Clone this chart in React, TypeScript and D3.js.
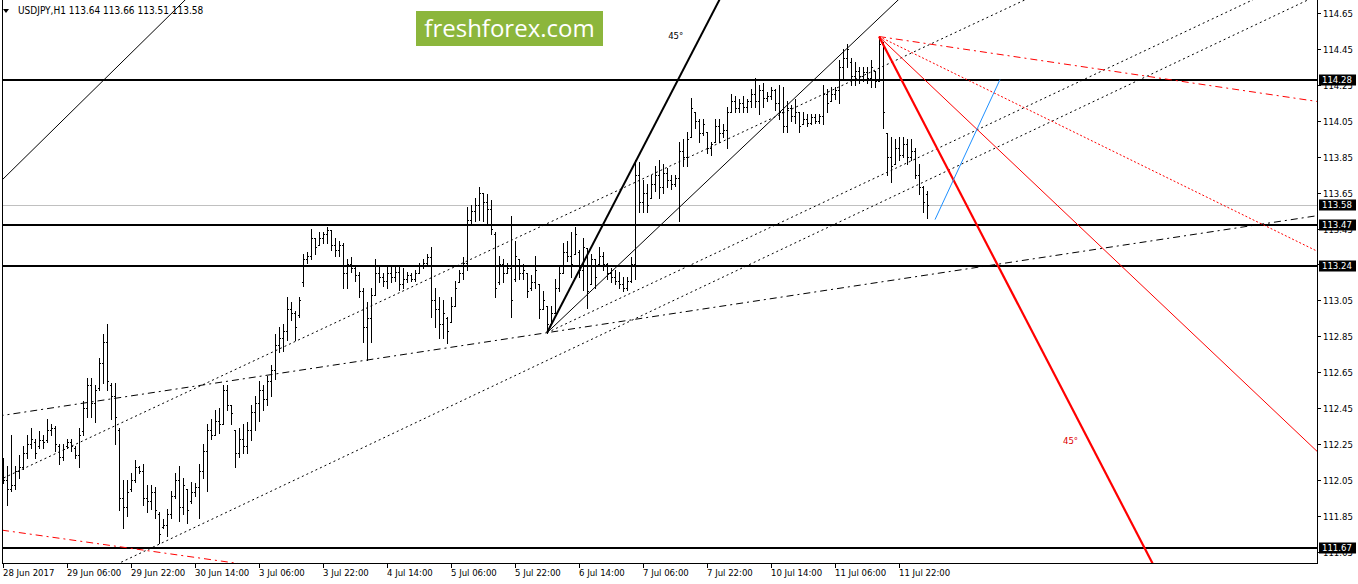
"use client";

import React, { useEffect, useRef } from "react";
import * as d3 from "d3";

// open, high, low, close for every H1 bar (28 Jun 2017 14:00 .. 12 Jul 05:00)
type Bar = [number, number, number, number];
type Anchor = [number, number]; // [bar index, price]

const bars: Bar[] = [
  [112.1, 112.17, 112.03, 112.05], [112.05, 112.13, 111.91, 112.0], [112.0, 112.3, 111.99, 112.02], [112.02, 112.13, 112.0, 112.1],
  [112.1, 112.19, 112.06, 112.12], [112.12, 112.24, 112.11, 112.2], [112.2, 112.3, 112.17, 112.25], [112.25, 112.34, 112.23, 112.28],
  [112.26, 112.28, 112.17, 112.2], [112.24, 112.32, 112.23, 112.27], [112.27, 112.3, 112.23, 112.26], [112.27, 112.39, 112.26, 112.33],
  [112.33, 112.36, 112.3, 112.34], [112.34, 112.35, 112.21, 112.25], [112.24, 112.25, 112.14, 112.18], [112.18, 112.25, 112.16, 112.22],
  [112.24, 112.28, 112.23, 112.26], [112.26, 112.28, 112.21, 112.24], [112.23, 112.24, 112.17, 112.19], [112.19, 112.34, 112.12, 112.3],
  [112.32, 112.49, 112.3, 112.45], [112.45, 112.62, 112.4, 112.58], [112.58, 112.62, 112.4, 112.48], [112.48, 112.58, 112.37, 112.55],
  [112.56, 112.73, 112.55, 112.7], [112.7, 112.86, 112.59, 112.82], [112.82, 112.92, 112.55, 112.6], [112.58, 112.59, 112.39, 112.52],
  [112.52, 112.59, 112.25, 112.4], [112.33, 112.34, 111.88, 111.95], [111.95, 112.05, 111.78, 111.9], [111.9, 112.05, 111.85, 111.98],
  [112.0, 112.09, 111.99, 112.05], [112.05, 112.16, 112.04, 112.12], [112.12, 112.13, 112.09, 112.1], [112.1, 112.14, 111.91, 111.95],
  [111.95, 112.02, 111.87, 111.93], [111.93, 112.02, 111.89, 111.98], [111.98, 112.01, 111.84, 111.88], [111.86, 111.87, 111.7, 111.75],
  [111.79, 111.83, 111.78, 111.8], [111.8, 111.89, 111.74, 111.86], [111.86, 111.99, 111.84, 111.96], [111.96, 112.09, 111.95, 112.05],
  [112.05, 112.13, 111.82, 111.9], [111.9, 112.06, 111.86, 112.02], [112.0, 112.0, 111.81, 111.88], [111.93, 112.04, 111.92, 111.98],
  [111.98, 112.03, 111.96, 112.01], [112.01, 112.14, 111.84, 112.1], [112.1, 112.25, 112.06, 112.21], [112.21, 112.36, 111.99, 112.33],
  [112.33, 112.39, 112.28, 112.3], [112.3, 112.44, 112.3, 112.38], [112.38, 112.45, 112.31, 112.36], [112.36, 112.58, 112.36, 112.55],
  [112.55, 112.58, 112.44, 112.47], [112.47, 112.47, 112.36, 112.42], [112.33, 112.33, 112.12, 112.2], [112.2, 112.34, 112.18, 112.28],
  [112.28, 112.36, 112.2, 112.24], [112.24, 112.37, 112.2, 112.33], [112.33, 112.47, 112.27, 112.43], [112.43, 112.52, 112.33, 112.48],
  [112.48, 112.6, 112.38, 112.55], [112.55, 112.58, 112.44, 112.5], [112.5, 112.63, 112.47, 112.6], [112.6, 112.69, 112.52, 112.66],
  [112.66, 112.86, 112.61, 112.8], [112.8, 112.9, 112.76, 112.84], [112.84, 112.92, 112.77, 112.88], [112.88, 113.07, 112.83, 113.0],
  [113.0, 113.04, 112.94, 112.98], [112.98, 112.99, 112.83, 112.9], [112.97, 113.07, 112.96, 113.05], [113.15, 113.31, 113.13, 113.28],
  [113.28, 113.32, 113.26, 113.3], [113.3, 113.45, 113.28, 113.4], [113.4, 113.4, 113.31, 113.35], [113.36, 113.43, 113.36, 113.4],
  [113.4, 113.43, 113.37, 113.42], [113.42, 113.46, 113.37, 113.44], [113.44, 113.44, 113.33, 113.36], [113.36, 113.4, 113.3, 113.33],
  [113.33, 113.38, 113.3, 113.36], [113.36, 113.37, 113.12, 113.2], [113.2, 113.28, 113.12, 113.25], [113.25, 113.29, 113.21, 113.23],
  [113.23, 113.24, 113.16, 113.19], [113.19, 113.21, 113.07, 113.1], [113.1, 113.12, 112.82, 112.9], [112.9, 113.04, 112.72, 112.95],
  [112.95, 113.12, 112.82, 113.08], [113.08, 113.28, 113.08, 113.2], [113.2, 113.24, 113.15, 113.18], [113.18, 113.2, 113.13, 113.16],
  [113.16, 113.24, 113.12, 113.2], [113.2, 113.24, 113.15, 113.18], [113.18, 113.24, 113.16, 113.21], [113.21, 113.24, 113.11, 113.14],
  [113.14, 113.23, 113.12, 113.17], [113.17, 113.21, 113.15, 113.19], [113.19, 113.2, 113.16, 113.17], [113.17, 113.22, 113.16, 113.2],
  [113.2, 113.26, 113.2, 113.24], [113.24, 113.28, 113.23, 113.26], [113.26, 113.31, 113.25, 113.29], [113.29, 113.35, 112.96, 113.05],
  [113.05, 113.12, 112.9, 113.0], [113.0, 113.07, 112.84, 112.92], [112.92, 113.05, 112.84, 112.98], [112.95, 112.96, 112.81, 112.88],
  [112.93, 113.07, 112.93, 113.02], [113.02, 113.16, 113.02, 113.12], [113.15, 113.22, 113.15, 113.2], [113.2, 113.29, 113.17, 113.26],
  [113.26, 113.57, 113.22, 113.5], [113.5, 113.58, 113.48, 113.55], [113.55, 113.62, 113.49, 113.58], [113.58, 113.68, 113.5, 113.65],
  [113.65, 113.65, 113.49, 113.6], [113.6, 113.64, 113.48, 113.56], [113.56, 113.61, 113.42, 113.45], [113.42, 113.43, 113.07, 113.12],
  [113.15, 113.3, 113.14, 113.25], [113.25, 113.28, 113.15, 113.2], [113.2, 113.26, 113.2, 113.23], [113.23, 113.52, 112.96, 113.05],
  [113.17, 113.38, 113.16, 113.3], [113.28, 113.28, 113.17, 113.2], [113.2, 113.25, 113.17, 113.22], [113.2, 113.2, 113.07, 113.1],
  [113.12, 113.19, 113.11, 113.15], [113.15, 113.3, 113.12, 113.22], [113.14, 113.14, 112.95, 113.0], [113.0, 113.1, 113.0, 113.05],
  [113.02, 113.02, 112.87, 112.92], [112.92, 113.02, 112.92, 112.98], [112.98, 113.17, 112.98, 113.12], [113.12, 113.24, 113.1, 113.2],
  [113.2, 113.37, 113.2, 113.32], [113.32, 113.38, 113.27, 113.3], [113.3, 113.43, 113.18, 113.25], [113.31, 113.46, 113.31, 113.42],
  [113.32, 113.33, 113.18, 113.22], [113.22, 113.4, 113.11, 113.35], [113.34, 113.34, 113.01, 113.1], [113.14, 113.31, 113.14, 113.28],
  [113.28, 113.28, 113.12, 113.18], [113.25, 113.35, 113.25, 113.3], [113.3, 113.32, 113.22, 113.25], [113.25, 113.26, 113.17, 113.2],
  [113.2, 113.23, 113.15, 113.18], [113.18, 113.22, 113.14, 113.16], [113.16, 113.21, 113.12, 113.14], [113.14, 113.18, 113.1, 113.12],
  [113.12, 113.18, 113.11, 113.16], [113.16, 113.29, 113.15, 113.25], [113.25, 113.83, 113.17, 113.75], [113.75, 113.82, 113.54, 113.6],
  [113.6, 113.72, 113.54, 113.65], [113.65, 113.7, 113.54, 113.58], [113.62, 113.75, 113.62, 113.7], [113.7, 113.8, 113.66, 113.75],
  [113.75, 113.83, 113.62, 113.68], [113.68, 113.81, 113.65, 113.76], [113.76, 113.79, 113.68, 113.72], [113.72, 113.75, 113.67, 113.7],
  [113.7, 113.75, 113.69, 113.73], [113.73, 113.93, 113.49, 113.88], [113.88, 113.95, 113.8, 113.85], [113.85, 113.99, 113.8, 113.95],
  [113.96, 114.18, 113.96, 114.12], [114.1, 114.1, 114.01, 114.05], [114.05, 114.06, 113.93, 113.98], [113.98, 114.06, 113.97, 114.03],
  [113.99, 113.99, 113.87, 113.9], [113.9, 113.93, 113.86, 113.92], [113.93, 114.06, 113.93, 114.02], [114.02, 114.06, 113.93, 113.98],
  [113.98, 114.03, 113.96, 114.0], [114.0, 114.13, 113.9, 114.1], [114.1, 114.2, 114.1, 114.16], [114.16, 114.19, 114.1, 114.12],
  [114.12, 114.17, 114.1, 114.15], [114.15, 114.19, 114.1, 114.13], [114.13, 114.17, 114.1, 114.16], [114.16, 114.23, 114.13, 114.2],
  [114.2, 114.29, 114.13, 114.16], [114.16, 114.25, 114.09, 114.22], [114.22, 114.26, 114.13, 114.18], [114.18, 114.21, 114.16, 114.19],
  [114.19, 114.24, 114.17, 114.22], [114.22, 114.23, 114.11, 114.15], [114.15, 114.25, 114.06, 114.1], [114.1, 114.24, 113.99, 114.02],
  [114.02, 114.16, 113.99, 114.12], [114.12, 114.14, 114.05, 114.08], [114.08, 114.17, 114.04, 114.1], [114.1, 114.1, 113.99, 114.02],
  [114.03, 114.1, 114.03, 114.06], [114.06, 114.09, 114.02, 114.04], [114.04, 114.09, 114.03, 114.07], [114.07, 114.09, 114.04, 114.05],
  [114.05, 114.09, 114.04, 114.08], [114.08, 114.25, 114.03, 114.2], [114.2, 114.23, 114.1, 114.15], [114.16, 114.24, 114.16, 114.2],
  [114.2, 114.24, 114.17, 114.22], [114.22, 114.39, 114.15, 114.35], [114.35, 114.45, 114.29, 114.4], [114.4, 114.48, 114.35, 114.45],
  [114.38, 114.4, 114.25, 114.3], [114.3, 114.38, 114.25, 114.33], [114.33, 114.35, 114.26, 114.3], [114.3, 114.35, 114.27, 114.32],
  [114.32, 114.35, 114.26, 114.29], [114.29, 114.39, 114.24, 114.35], [114.33, 114.33, 114.24, 114.27], [114.27, 114.52, 114.27, 114.48],
  [114.48, 114.49, 114.01, 114.1], [113.98, 113.98, 113.75, 113.85], [113.85, 113.96, 113.71, 113.8], [113.81, 113.95, 113.81, 113.9],
  [113.9, 113.96, 113.83, 113.86], [113.86, 113.96, 113.85, 113.92], [113.92, 113.95, 113.81, 113.85], [113.85, 113.95, 113.83, 113.88],
  [113.88, 113.9, 113.73, 113.75], [113.75, 113.81, 113.64, 113.68], [113.68, 113.69, 113.54, 113.6], [113.64, 113.66, 113.51, 113.58],
];

const priceTicks = [114.65, 114.45, 114.25, 114.05, 113.85, 113.65, 113.45, 113.25, 113.05, 112.85, 112.65, 112.45, 112.25, 112.05, 111.85, 111.65];
const timeLabels = [
  "28 Jun 2017", "29 Jun 06:00", "29 Jun 22:00", "30 Jun 14:00", "3 Jul 06:00", "3 Jul 22:00", "4 Jul 14:00", "5 Jul 06:00",
  "5 Jul 22:00", "6 Jul 14:00", "7 Jul 06:00", "7 Jul 22:00", "10 Jul 14:00", "11 Jul 06:00", "11 Jul 22:00",
];
const levels = [114.28, 113.47, 113.24, 111.67];
const bidPrice = 113.58;
const header = "USDJPY,H1  113.64 113.66 113.51 113.58";

// drawing objects, anchors in [bar index, price]
const longDashDot: [Anchor, Anchor][] = [[[136, 112.87], [328, 113.52]]];
const channelDotted: [Anchor, Anchor][] = [
  [[2, 112.08], [234, 114.5]],
  [[37, 111.67], [234, 113.75]],
];
const originDotted: [Anchor, Anchor][] = [[[136, 112.87], [234, 113.9]]];
const thinBlack: [Anchor, Anchor][] = [
  [[0, 113.726], [45, 114.712]],
  [[136, 112.87], [223, 114.707]],
];
const gannUp: [Anchor, Anchor][] = [[[136, 112.87], [179, 114.72]]];
const gannDown: [Anchor, Anchor][] = [[[219, 114.52], [287.5, 111.58]]];
const redThin: [Anchor, Anchor][] = [[[219, 114.52], [328, 112.22]]];
const redDotted: [Anchor, Anchor][] = [[[219, 114.52], [328, 113.33]]];
const redDashDot: [Anchor, Anchor][] = [
  [[219, 114.52], [328, 114.16]],
  [[-0.25, 111.77], [57, 111.59]],
];
const blueSegment: [Anchor, Anchor][] = [[[233, 113.5], [249.25, 114.28]]];
const angleLabels: { at: Anchor; text: string; color: string }[] = [
  { at: [166.3, 114.505], text: "45°", color: "#000" },
  { at: [265, 112.25], text: "45°", color: "#e00000" },
];

const FONT = "'DejaVu Sans Condensed', 'DejaVu Sans', sans-serif";

const App: React.FC = () => {
  const svgRef = useRef<SVGSVGElement | null>(null);

  useEffect(() => {
    if (!svgRef.current) return;
    const svg = d3.select(svgRef.current);
    svg.selectAll("*").remove();

    const width = 1358;
    const height = 584;
    const left = 2;
    const right = 1317;
    const bottom = 563;

    svg.attr("width", width).attr("height", height);
    svg.append("rect").attr("width", width).attr("height", height).attr("fill", "#fff");

    const x = d3.scaleLinear().domain([0, 328.5]).range([3, 1317]);
    const y = d3.scaleLinear().domain([111.587, 114.7235]).range([bottom, 0]);

    svg
      .append("clipPath")
      .attr("id", "plot")
      .append("rect")
      .attr("x", left)
      .attr("y", 0)
      .attr("width", right - left)
      .attr("height", bottom);

    const plot = svg.append("g").attr("clip-path", "url(#plot)");

    // bid line
    plot
      .append("line")
      .attr("x1", left)
      .attr("x2", right)
      .attr("y1", Math.round(y(bidPrice)) + 0.5)
      .attr("y2", Math.round(y(bidPrice)) + 0.5)
      .attr("stroke", "#c0c0c0");

    // bars
    const barG = plot.append("g").attr("fill", "#000").attr("shape-rendering", "crispEdges");
    bars.forEach((b, i) => {
      const bx = Math.round(x(i));
      const yh = Math.round(y(b[1]));
      const yl = Math.round(y(b[2]));
      barG.append("rect").attr("x", bx).attr("y", yh).attr("width", 1).attr("height", Math.max(1, yl - yh + 1));
      barG.append("rect").attr("x", bx - 1).attr("y", Math.round(y(b[0]))).attr("width", 1).attr("height", 1);
      barG.append("rect").attr("x", bx + 1).attr("y", Math.round(y(b[3]))).attr("width", 1).attr("height", 1);
    });

    // horizontal levels
    levels.forEach((p) => {
      plot
        .append("line")
        .attr("x1", left)
        .attr("x2", right)
        .attr("y1", Math.round(y(p)))
        .attr("y2", Math.round(y(p)))
        .attr("stroke", "#000")
        .attr("stroke-width", 2);
    });

    // trend lines
    const drawLines = (
      list: [Anchor, Anchor][],
      ext: "none" | "right" | "both",
      color: string,
      widthPx: number,
      dash?: string
    ) => {
      list.forEach(([a, b]) => {
        const slope = (b[1] - a[1]) / (b[0] - a[0]);
        const i0 = ext === "both" ? -10 : a[0];
        const i1 = ext === "none" ? b[0] : 400;
        const line = plot
          .append("line")
          .attr("x1", x(i0))
          .attr("y1", y(a[1] + slope * (i0 - a[0])))
          .attr("x2", x(i1))
          .attr("y2", y(a[1] + slope * (i1 - a[0])))
          .attr("stroke", color)
          .attr("stroke-width", widthPx);
        if (dash) line.attr("stroke-dasharray", dash);
      });
    };

    drawLines(longDashDot, "both", "#000", 1, "7,4,2,4");
    drawLines(channelDotted, "both", "#000", 1, "2,3");
    drawLines(originDotted, "right", "#000", 1, "2,3");
    drawLines(thinBlack, "right", "#000", 1);
    drawLines(gannUp, "right", "#000", 2);
    drawLines(gannDown, "right", "#f00", 2.2);
    drawLines(redThin, "right", "#f00", 1);
    drawLines(redDotted, "right", "#f00", 1, "2,2");
    drawLines(redDashDot, "right", "#f00", 1, "7,4,2,4");
    drawLines(blueSegment, "none", "#1e90ff", 1);

    angleLabels.forEach((l) => {
      plot
        .append("text")
        .attr("x", x(l.at[0]))
        .attr("y", y(l.at[1]))
        .attr("font-family", FONT)
        .attr("font-size", "9.5px")
        .attr("fill", l.color)
        .text(l.text);
    });

    // frame
    svg
      .append("path")
      .attr("d", `M${left + 0.5},0V${bottom + 0.5}H${right + 0.5}V0`)
      .attr("fill", "none")
      .attr("stroke", "#000")
      .attr("shape-rendering", "crispEdges");

    // right price axis
    const yAxis = svg.append("g").attr("font-family", FONT).attr("font-size", "9.5px");
    priceTicks.forEach((p) => {
      const ty = Math.round(y(p)) + 0.5;
      yAxis
        .append("line")
        .attr("x1", right)
        .attr("x2", right + 4)
        .attr("y1", ty)
        .attr("y2", ty)
        .attr("stroke", "#000");
      yAxis
        .append("text")
        .attr("x", 1323)
        .attr("y", ty)
        .attr("dy", "0.35em")
        .attr("fill", "#000")
        .text(p.toFixed(2));
    });
    [...levels, bidPrice].forEach((p) => {
      const ty = y(p);
      yAxis
        .append("rect")
        .attr("x", 1319)
        .attr("y", Math.round(ty) - 5.5)
        .attr("width", 37)
        .attr("height", 11)
        .attr("fill", "#000");
      yAxis
        .append("text")
        .attr("x", 1322)
        .attr("y", Math.round(ty))
        .attr("dy", "0.35em")
        .attr("fill", "#fff")
        .text(p.toFixed(2));
    });

    // time axis
    const xAxis = svg.append("g").attr("font-family", FONT).attr("font-size", "9.5px");
    timeLabels.forEach((t, k) => {
      const tx = Math.round(x(k * 16)) + 0.5;
      xAxis
        .append("line")
        .attr("x1", tx)
        .attr("x2", tx)
        .attr("y1", bottom)
        .attr("y2", bottom + 5)
        .attr("stroke", "#000");
      xAxis
        .append("text")
        .attr("x", tx - 0.5)
        .attr("y", 576)
        .attr("fill", "#000")
        .text(t);
    });

    // header
    svg.append("path").attr("d", "M3,9H9L6,13Z").attr("fill", "#000");
    svg
      .append("text")
      .attr("x", 18)
      .attr("y", 14)
      .attr("font-family", FONT)
      .attr("font-size", "10px")
      .attr("fill", "#000")
      .text(header);

    // watermark
    svg.append("rect").attr("x", 416).attr("y", 11).attr("width", 187).attr("height", 35).attr("fill", "#8cb63c");
    svg
      .append("text")
      .attr("x", 509.5)
      .attr("y", 37)
      .attr("text-anchor", "middle")
      .attr("font-family", "'Open Sans', sans-serif")
      .attr("font-size", "24px")
      .attr("fill", "#fff")
      .text("freshforex.com");
  }, []);

  return (
    <div style={{ position: "absolute", left: 0, top: 0, width: 1358, height: 584 }}>
      <svg ref={svgRef} style={{ display: "block" }} />
    </div>
  );
};

export default App;
